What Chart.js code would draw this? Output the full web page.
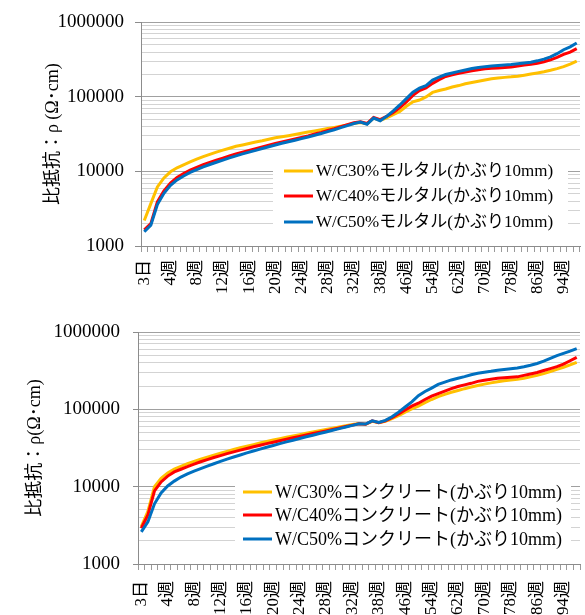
<!DOCTYPE html>
<html><head><meta charset="utf-8">
<script src="https://cdn.jsdelivr.net/npm/chart.js@4/dist/chart.umd.min.js"></script>
<style>
html,body{margin:0;padding:0;background:#fff;width:585px;height:615px;overflow:hidden}
.c{position:absolute;left:0;width:585px}
</style></head><body>
<div class="c" style="top:0;height:307px"><canvas id="c1"></canvas></div>
<div class="c" style="top:307px;height:308px"><canvas id="c2"></canvas></div>
<script>
const categories = ["3日","1週","2週","3週","4週","5週","6週","7週","8週","9週","10週","11週","12週","13週","14週","15週","16週","17週","18週","19週","20週","21週","22週","23週","24週","25週","26週","27週","28週","29週","30週","31週","32週","33週","34週","36週","38週","40週","42週","44週","46週","48週","50週","52週","54週","56週","58週","60週","62週","64週","66週","68週","70週","72週","74週","76週","78週","80週","82週","84週","86週","88週","90週","92週","94週","96週","98週"];
const shownLabels = ["3日","4週","8週","12週","16週","20週","24週","28週","32週","38週","46週","54週","62週","70週","78週","86週","94週"];
const yTickValues = [1000, 10000, 100000, 1000000];

const mortarNames = ["W/C30%モルタル(かぶり10mm)","W/C40%モルタル(かぶり10mm)","W/C50%モルタル(かぶり10mm)"];
const concreteNames = ["W/C30%コンクリート(かぶり10mm)","W/C40%コンクリート(かぶり10mm)","W/C50%コンクリート(かぶり10mm)"];
const seriesColors = ["#FFC000","#FF0000","#0070C0"];

const mortar30 = [2200,3700,6200,8200,9900,11200,12300,13400,14600,15800,
 17000,18200,19300,20500,21800,22700,23700,24800,25800,27000,
 28300,29200,30200,31300,32500,33800,35000,36200,37600,39000,
 40500,42200,44000,45500,43500,52000,48500,52500,58000,64000,
 75000,86000,91000,100000,115000,122000,128000,136000,142000,150000,
 156000,162000,169000,175000,179000,183000,186000,190000,196000,203000,
 210000,218000,228000,240000,255000,275000,302000];
const mortar40 = [1650,2000,3900,5500,7000,8300,9400,10400,11300,12300,
 13200,14200,15100,16100,17200,18200,19200,20200,21300,22500,
 23700,24900,26000,27200,28500,30000,31800,33500,35500,37500,
 40000,42500,45000,46500,44000,53000,49500,55000,62000,72000,
 86000,105000,122000,132000,152000,170000,188000,198000,208000,216000,
 224000,231000,238000,242000,245000,249000,253000,260000,268000,275000,
 283000,297000,315000,340000,372000,400000,445000];
const mortar50 = [1550,1900,3600,5100,6500,7700,8700,9700,10600,11500,
 12400,13300,14200,15200,16200,17200,18200,19200,20300,21500,
 22700,23900,25100,26300,27600,29000,30600,32300,34200,36300,
 38700,41300,44000,46000,43000,52000,48000,55000,65000,78000,
 95000,116000,131000,142000,168000,185000,200000,210000,220000,230000,
 240000,248000,255000,260000,265000,268000,272000,278000,285000,292000,
 305000,322000,345000,380000,430000,470000,530000];

const concrete30 = [3050,4800,10000,12800,15000,16900,18300,19800,21200,22600,
 24000,25500,27000,28600,30200,31800,33400,35000,36700,38400,
 40100,41800,43500,45300,47100,49000,51000,53000,55000,57100,
 59300,61500,63500,65500,64000,70000,67000,70000,76000,83000,
 92000,101000,110000,122000,134000,146000,156000,166000,175000,185000,
 194000,203000,212000,220000,228000,234000,239000,244000,253000,263000,
 275000,290000,308000,328000,350000,375000,405000];
const concrete40 = [2900,4300,8800,11500,13700,15500,16800,18200,19600,21000,
 22400,23800,25200,26700,28200,29700,31200,32800,34400,36000,
 37600,39300,41000,42800,44600,46600,48600,50600,52700,55000,
 57400,60000,62500,65000,64000,71000,67000,71000,78000,87000,
 98000,110000,120000,134000,148000,160000,172000,185000,197000,207000,
 217000,230000,238000,245000,253000,256000,259000,263000,275000,287000,
 300000,318000,336000,356000,385000,425000,470000];
const concrete50 = [2600,3500,6000,8300,10200,11800,13300,14600,15900,17100,
 18400,19800,21200,22700,24200,25700,27300,28900,30600,32300,
 34100,36000,37900,39900,42000,44100,46300,48600,51000,53600,
 56300,59100,62000,65000,64500,71000,67500,72000,80000,92000,
 107000,125000,150000,170000,188000,210000,225000,240000,252000,265000,
 280000,292000,302000,310000,320000,328000,335000,342000,355000,372000,
 392000,420000,455000,495000,530000,565000,610000];

const SERIF = '"Liberation Serif", "Times New Roman", "Noto Sans CJK JP", serif';
const isMajor = v => yTickValues.includes(v);

const boxLegend = {
  id: 'boxLegend',
  afterDraw(chart, args, o) {
    const ctx = chart.ctx;
    ctx.save();
    ctx.fillStyle = '#ffffff';
    ctx.fillRect(o.x, o.y, o.w, o.h);
    ctx.font = o.fontSize + 'px ' + SERIF;
    ctx.textBaseline = 'middle';
    ctx.textAlign = 'left';
    chart.data.datasets.forEach((ds, i) => {
      const y = o.rows[i];
      ctx.strokeStyle = ds.borderColor;
      ctx.lineWidth = 3;
      ctx.beginPath();
      ctx.moveTo(o.lx1, y);
      ctx.lineTo(o.lx2, y);
      ctx.stroke();
      ctx.fillStyle = '#000';
      ctx.fillText(ds.label, o.tx, y + 1);
    });
    ctx.restore();
  }
};

function makeChart(id, names, series, L) {
  const datasets = series.map((d, i) => ({
    label: names[i], data: d, borderColor: seriesColors[i], backgroundColor: seriesColors[i],
    borderWidth: 3, pointRadius: 0, tension: 0, fill: false, order: 2 - i
  }));
  return new Chart(document.getElementById(id), {
    type: 'line',
    data: { labels: categories, datasets },
    plugins: [boxLegend],
    options: {
      responsive: true, maintainAspectRatio: false, animation: false, devicePixelRatio: 1,
      layout: { padding: { top: L.top, right: 5, left: 0, bottom: 0 } },
      plugins: {
        legend: { display: false }, tooltip: { enabled: false },
        boxLegend: L.legend
      },
      scales: {
        x: {
          type: 'category', offset: true,
          grid: { display: true, drawOnChartArea: false, drawTicks: true, tickLength: 6, offset: true, color: '#9a9a9a' },
          border: { display: true, color: '#8c8c8c', width: 1 },
          ticks: {
            autoSkip: false, minRotation: 90, maxRotation: 90, padding: L.xPad,
            color: '#000', font: { family: SERIF, size: 17 },
            callback: function(v, i) { const l = categories[i]; return shownLabels.includes(l) ? l : ''; }
          },
          afterFit: s => { s.height = L.xH; s.paddingLeft = 0; s.paddingRight = 0; }
        },
        y: {
          type: 'logarithmic', min: 1000, max: 1000000,
          afterBuildTicks: s => {
            const t = [];
            for (let k = 0; k < yTickValues.length - 1; k++) {
              for (let m = 1; m < 10; m++) t.push({ value: yTickValues[k] * m });
            }
            t.push({ value: yTickValues[yTickValues.length - 1] });
            s.ticks = t;
          },
          grid: {
            drawOnChartArea: true, drawTicks: true, tickLength: L.yTick,
            color: c => (c.tick && isMajor(c.tick.value)) ? '#a0a0a0' : '#d3d3d3',
            tickColor: c => (c.tick && isMajor(c.tick.value)) ? '#8c8c8c' : 'rgba(0,0,0,0)',
            lineWidth: 1
          },
          border: { display: true, color: '#8c8c8c', width: 1 },
          ticks: {
            autoSkip: false, padding: L.yPad, color: '#000', font: { family: SERIF, size: 19 },
            callback: v => isMajor(v) ? String(v) : ''
          },
          title: {
            display: true, text: L.title, color: '#000',
            font: { family: SERIF, size: 18, lineHeight: 1.2 }, padding: { top: L.titlePad, bottom: 0 }
          },
          afterFit: s => { s.width = L.yW; }
        }
      }
    }
  });
}

makeChart('c1', mortarNames, [mortar30, mortar40, mortar50], {
  top: 20, xH: 61, yW: 141, xPad: 8, yPad: 11, yTick: 6, titlePad: 42,
  title: '比抵抗：ρ (Ω･cm)',
  legend: { x: 273, y: 156, w: 295, h: 82, rows: [171, 196, 222], lx1: 284, lx2: 313, tx: 316, fontSize: 17 }
});
makeChart('c2', concreteNames, [concrete30, concrete40, concrete50], {
  top: 25, xH: 51, yW: 138, xPad: 11, yPad: 13, yTick: 5, titlePad: 24,
  title: '比抵抗：ρ(Ω･cm)',
  legend: { x: 235, y: 171, w: 336, h: 75, rows: [185, 208, 232], lx1: 243, lx2: 272, tx: 275, fontSize: 18 }
});
</script>
</body></html>
